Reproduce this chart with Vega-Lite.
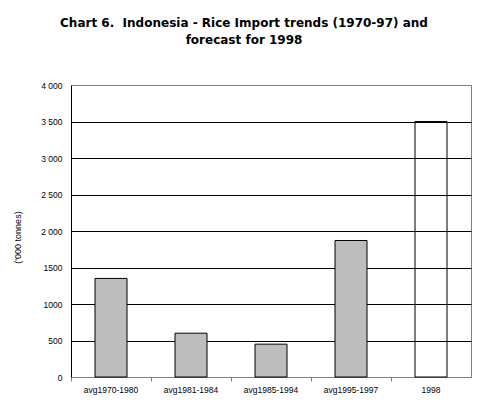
{
  "$schema": "https://vega.github.io/schema/vega-lite/v6.json",
  "autosize": {"type": "none"},
  "width": 400,
  "height": 292,
  "padding": {"left": 71, "top": 85, "right": 8, "bottom": 35},
  "background": "white",
  "title": {
    "text": ["Chart 6.\u00a0 Indonesia - Rice Import trends (1970-97) and", "forecast for 1998"],
    "font": "DejaVu Sans",
    "fontSize": 12,
    "fontWeight": "bold",
    "color": "black",
    "anchor": "middle",
    "lineHeight": 17,
    "dx": -27,
    "offset": 34
  },
  "config": {
    "view": {"stroke": "#808080", "strokeWidth": 1},
    "axis": {
      "labelFont": "Liberation Sans",
      "titleFont": "Liberation Sans",
      "labelColor": "black",
      "titleColor": "black",
      "labelFontSize": 8.5,
      "titleFontSize": 9,
      "titleFontWeight": "normal"
    }
  },
  "data": {
    "values": [
      {"period": "avg1970-1980", "imports": 1350},
      {"period": "avg1981-1984", "imports": 600},
      {"period": "avg1985-1994", "imports": 450},
      {"period": "avg1995-1997", "imports": 1870},
      {"period": "1998", "imports": 3500}
    ]
  },
  "mark": {"type": "bar", "stroke": "black", "strokeWidth": 1, "width": {"band": 0.4}},
  "encoding": {
    "x": {
      "field": "period",
      "type": "nominal",
      "sort": null,
      "scale": {"paddingInner": 0, "paddingOuter": 0},
      "axis": {
        "title": null,
        "labelAngle": 0,
        "bandPosition": 0,
        "labelOverlap": false,
        "labelBound": false,
        "labelPadding": 4,
        "tickColor": "#808080",
        "tickSize": 4,
        "domainColor": "#808080",
        "grid": false
      }
    },
    "y": {
      "field": "imports",
      "type": "quantitative",
      "scale": {"domain": [0, 4000]},
      "axis": {
        "title": "('000 tonnes)",
        "values": [0, 500, 1000, 1500, 2000, 2500, 3000, 3500, 4000],
        "labelExpr": "datum.value >= 2000 ? replace(format(datum.value, ','), ',', ' ') : format(datum.value, 'd')",
        "ticks": false,
        "labelPadding": 9,
        "domainColor": "black",
        "grid": true,
        "gridColor": {"condition": {"test": "datum.value === 0 || datum.value === 4000", "value": "#808080"}, "value": "black"},
        "gridOpacity": 1,
        "titlePadding": 18,
        "titleY": 152
      }
    },
    "fill": {
      "condition": {"test": "datum.period === '1998'", "value": "transparent"},
      "value": "#bdbdbd"
    }
  }
}
